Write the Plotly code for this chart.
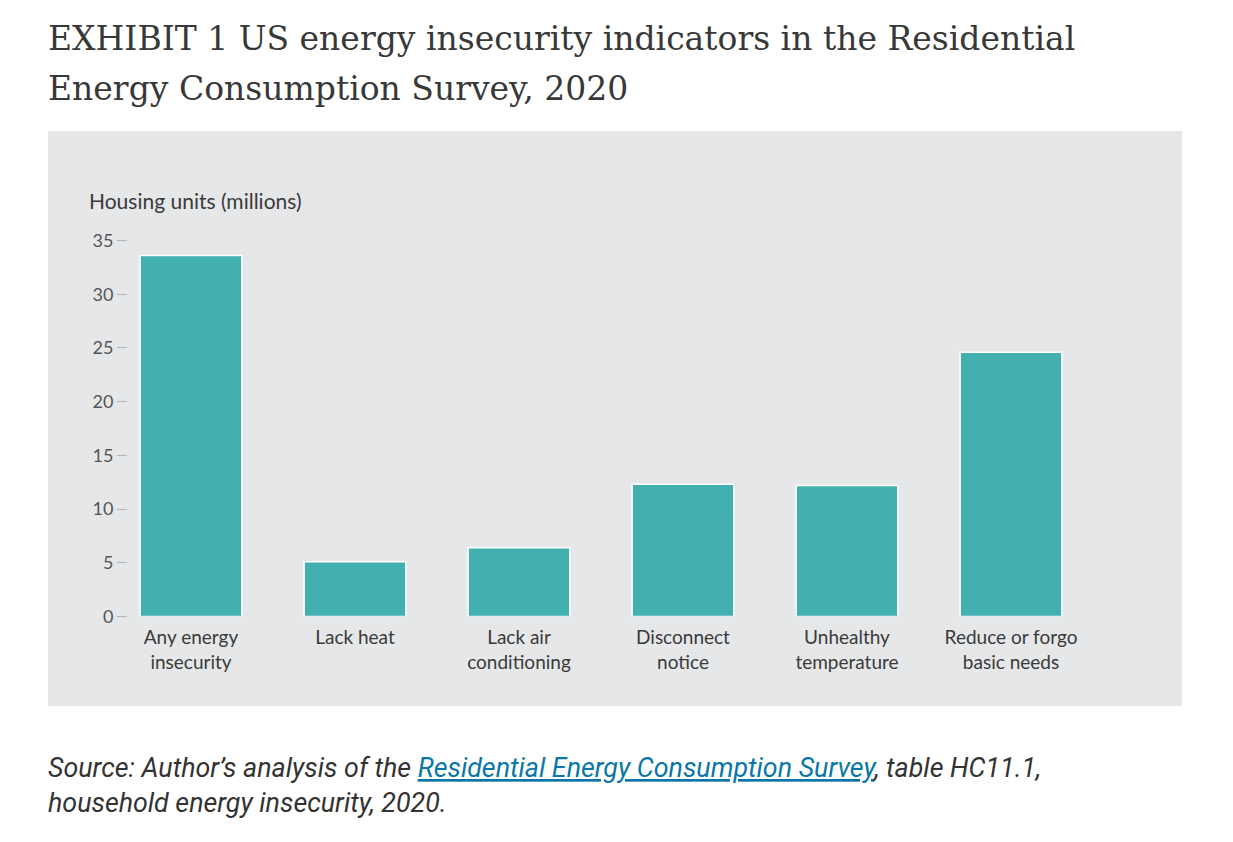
import plotly.graph_objects as go

categories = ["Any energy<br>insecurity", "Lack heat", "Lack air<br>conditioning",
              "Disconnect<br>notice", "Unhealthy<br>temperature", "Reduce or forgo<br>basic needs"]
values = [33.6, 5.1, 6.4, 12.3, 12.2, 24.6]
tick_vals = [0, 5, 10, 15, 20, 25, 30, 35]

title_lines = ["EXHIBIT 1 US energy insecurity indicators in the Residential",
               "Energy Consumption Survey, 2020"]

BODY = 8  # default page margin around the plot div
W, H = 1233 - 2 * BODY, 842 - 2 * BODY
BAR = "#42afb0"
TXT = "#3a3a3a"
LBL = "Lato"


def px_x(p):
    return (p - BODY) / W


def px_y(p):
    return 1 - (p - BODY) / H


fig = go.Figure()
fig.add_trace(go.Bar(
    x=categories, y=values,
    marker=dict(color=BAR, line=dict(color="white", width=1.5)),
    width=0.62, hoverinfo="x+y",
))

annotations = []
for i, line in enumerate(title_lines):
    annotations.append(dict(
        xref="paper", yref="paper", x=px_x(46), y=px_y(38 + 50 * i),
        xanchor="left", yanchor="middle", align="left", showarrow=False,
        text=line,
        font=dict(family="DejaVu Serif", size=33, color="#383838"),
    ))

annotations += [
    dict(
        xref="paper", yref="paper", x=px_x(87), y=px_y(200),
        xanchor="left", yanchor="middle", showarrow=False,
        text="Housing units (millions)",
        font=dict(family=LBL, size=21, color=TXT),
    ),
    dict(
        xref="paper", yref="paper", x=px_x(46), y=px_y(785),
        xanchor="left", yanchor="middle", align="left", showarrow=False,
        text=("<i>Source: Author’s analysis of the "
              "<span style='color:#0a77a8;text-decoration:underline'>Residential Energy Consumption Survey</span>"
              ", table HC11.1,<br>household energy insecurity, 2020.</i>"),
        font=dict(family="Roboto", size=26.8, color="#333333"),
    ),
]

fig.update_layout(
    width=W, height=H,
    margin=dict(l=0, r=0, t=0, b=0, autoexpand=False),
    paper_bgcolor="white",
    plot_bgcolor="rgba(0,0,0,0)",
    showlegend=False,
    xaxis=dict(
        domain=[px_x(128), px_x(1093)],
        range=[-0.384, 5.5],
        showgrid=False, zeroline=False, showline=False,
        ticks="outside", ticklen=4, tickcolor="rgba(0,0,0,0)",
        tickfont=dict(family=LBL, size=19, color=TXT),
        automargin=False,
    ),
    yaxis=dict(
        domain=[px_y(616.5), px_y(240.5)],
        range=[0, 35],
        tickvals=tick_vals,
        showgrid=False, zeroline=False, showline=False,
        ticks="outside", ticklen=10, tickwidth=1, tickcolor="#b5b5b5",
        tickfont=dict(family=LBL, size=18, color="#555555"),
        automargin=False,
    ),
    shapes=[dict(
        type="rect", xref="paper", yref="paper", layer="below",
        x0=px_x(48), x1=px_x(1182), y0=px_y(706), y1=px_y(131),
        fillcolor="#e6e7e9", line=dict(width=0),
    )],
    annotations=annotations,
)

fig.write_html("out.html")
